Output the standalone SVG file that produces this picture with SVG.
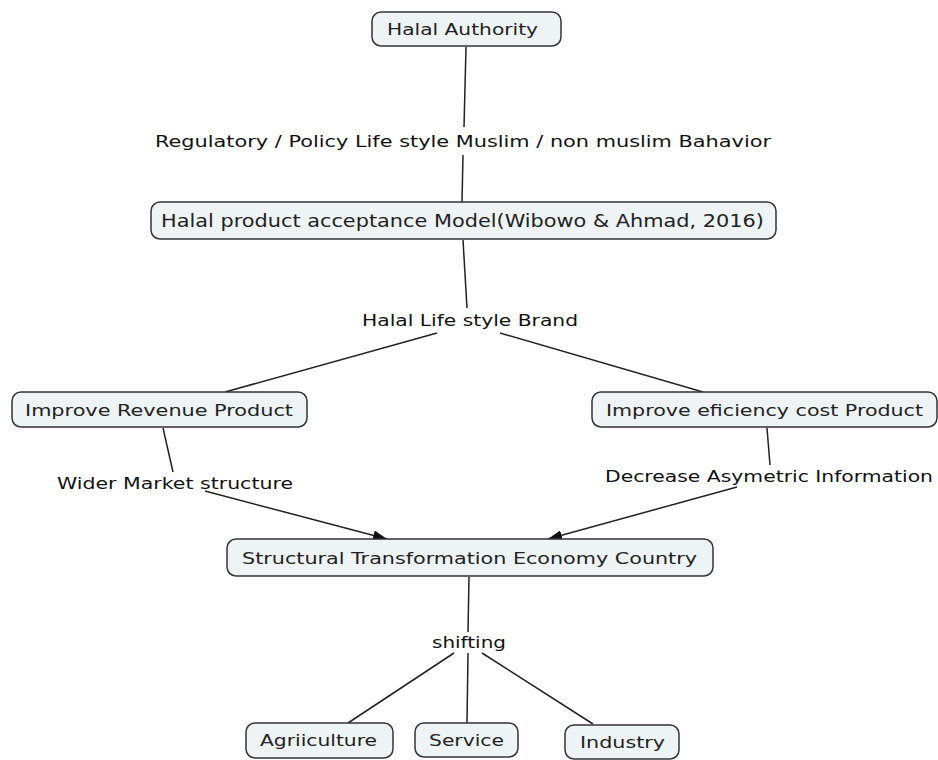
<svg xmlns="http://www.w3.org/2000/svg" width="938" height="760" viewBox="0 0 938 760">
<style>
.box{fill:#eef3f5;stroke:#333;stroke-width:1.5}
.t{font-family:"DejaVu Sans",Verdana,sans-serif;font-size:16px;fill:#222;text-anchor:middle}
.lab{font-family:"DejaVu Sans",Verdana,sans-serif;font-size:16px;fill:#111;text-anchor:middle}
.c{stroke:#222;stroke-width:1.5;fill:none}
</style>
<defs>
<marker id="ah" viewBox="0 0 14 10" refX="14" refY="5" markerWidth="14" markerHeight="10" markerUnits="userSpaceOnUse" orient="auto">
<path d="M0,0 L14,5 L0,10 Z" fill="#111"/>
</marker>
</defs>
<rect width="938" height="760" fill="#fff"/>
<g id="connectors">
<line class="c" x1="466" y1="47" x2="464" y2="127"/>
<line class="c" x1="463" y1="155" x2="462" y2="202"/>
<line class="c" x1="463" y1="240" x2="467" y2="308"/>
<line class="c" x1="437" y1="333" x2="225" y2="392"/>
<line class="c" x1="500" y1="333" x2="703" y2="392"/>
<line class="c" x1="163" y1="428" x2="173" y2="472"/>
<line class="c" x1="205" y1="491" x2="387" y2="539" marker-end="url(#ah)"/>
<line class="c" x1="767" y1="428" x2="770" y2="465"/>
<line class="c" x1="737" y1="487" x2="548" y2="539" marker-end="url(#ah)"/>
<line class="c" x1="469" y1="577" x2="468" y2="632"/>
<line class="c" x1="454" y1="653" x2="348" y2="723"/>
<line class="c" x1="468" y1="653" x2="467" y2="723"/>
<line class="c" x1="482" y1="653" x2="593" y2="724"/>
<text class="lab" x="463" y="147" textLength="616" lengthAdjust="spacingAndGlyphs">Regulatory / Policy Life style Muslim / non muslim Bahavior</text>
<text class="lab" x="470" y="326" textLength="216" lengthAdjust="spacingAndGlyphs">Halal Life style Brand</text>
<text class="lab" x="175" y="489" textLength="236" lengthAdjust="spacingAndGlyphs">Wider Market structure</text>
<text class="lab" x="769" y="482" textLength="328" lengthAdjust="spacingAndGlyphs">Decrease Asymetric Information</text>
<text class="lab" x="469" y="648" textLength="74" lengthAdjust="spacingAndGlyphs">shifting</text>
</g>
<g id="n-halal-authority">
<rect class="box" x="372" y="12" width="189" height="34" rx="9"/>
<text class="t" x="462.5" y="35" textLength="151" lengthAdjust="spacingAndGlyphs">Halal Authority</text>
</g>
<g id="n-model">
<rect class="box" x="151" y="202" width="625" height="37" rx="9"/>
<text class="t" x="462.5" y="227" style="font-size:17px" textLength="603" lengthAdjust="spacingAndGlyphs">Halal product acceptance Model(Wibowo &amp; Ahmad, 2016)</text>
</g>
<g id="n-revenue">
<rect class="box" x="12" y="392" width="295" height="35" rx="9"/>
<text class="t" x="159" y="416" textLength="268" lengthAdjust="spacingAndGlyphs">Improve Revenue Product</text>
</g>
<g id="n-efficiency">
<rect class="box" x="592" y="392" width="345" height="35" rx="9"/>
<text class="t" x="764.5" y="416" textLength="317" lengthAdjust="spacingAndGlyphs">Improve eficiency cost Product</text>
</g>
<g id="n-structural">
<rect class="box" x="227" y="539" width="486" height="37" rx="9"/>
<text class="t" x="469.5" y="564" textLength="455" lengthAdjust="spacingAndGlyphs">Structural Transformation Economy Country</text>
</g>
<g id="n-agriculture">
<rect class="box" x="246" y="723" width="147" height="35" rx="9"/>
<text class="t" x="318.5" y="746" textLength="117" lengthAdjust="spacingAndGlyphs">Agriiculture</text>
</g>
<g id="n-service">
<rect class="box" x="415" y="723" width="103" height="34" rx="9"/>
<text class="t" x="466.5" y="746" textLength="75" lengthAdjust="spacingAndGlyphs">Service</text>
</g>
<g id="n-industry">
<rect class="box" x="565" y="725" width="114" height="34" rx="9"/>
<text class="t" x="622.5" y="748" textLength="85" lengthAdjust="spacingAndGlyphs">Industry</text>
</g>
</svg>
